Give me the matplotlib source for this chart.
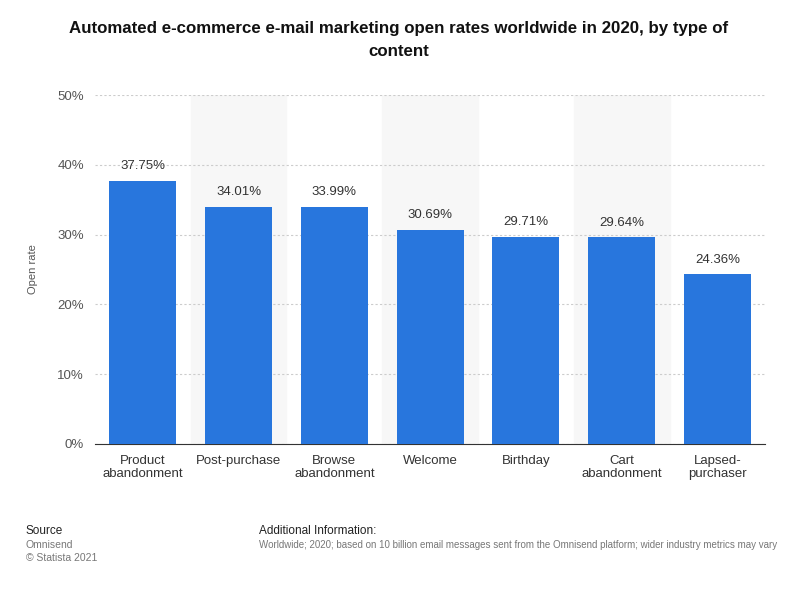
import matplotlib.pyplot as plt

plt.rcParams["font.family"] = ["Liberation Sans", "DejaVu Sans"]

categories = ["Product\nabandonment", "Post-purchase", "Browse\nabandonment", "Welcome",
              "Birthday", "Cart\nabandonment", "Lapsed-\npurchaser"]
open_rates = [37.75, 34.01, 33.99, 30.69, 29.71, 29.64, 24.36]
y_ticks = [0, 10, 20, 30, 40, 50]

fig = plt.figure(figsize=(7.98, 5.92), dpi=100)
ax = fig.add_axes([0.119, 0.25, 0.84, 0.5895])

x = range(len(categories))
for i in x:
    if i % 2 == 1:
        ax.axvspan(i - 0.5, i + 0.5, color="#f7f7f7", zorder=0)
ax.bar(x, open_rates, width=0.7, color="#2876dd", zorder=3)
for i, v in zip(x, open_rates):
    ax.text(i, v + 1.2, f"{v:.2f}%", ha="center", va="bottom", fontsize=9.5, color="#333333")

ax.set_xlim(-0.5, len(categories) - 0.5)
ax.set_ylim(0, 50)
ax.set_yticks(y_ticks)
ax.set_yticklabels([f"{t}%" for t in y_ticks], fontsize=9.5, color="#555555")
ax.set_xticks(list(x))
ax.set_xticklabels(categories, fontsize=9.5, color="#333333", linespacing=1.15)
ax.grid(axis="y", color="#cccccc", linestyle=(0, (2, 2)), linewidth=0.8, zorder=1)
for s in ["top", "right", "left"]:
    ax.spines[s].set_visible(False)
ax.spines["bottom"].set_color("#333333")
ax.tick_params(axis="both", length=0, pad=8)
ax.set_ylabel("Open rate", fontsize=8, color="#555555", labelpad=14)

fig.text(0.5, 0.965, "Automated e-commerce e-mail marketing open rates worldwide in 2020, by type of\ncontent",
         ha="center", va="top", fontsize=12.2, fontweight="bold", color="#111111", linespacing=1.65)

fig.text(0.032, 0.098, "Source", fontsize=8.5, color="#222222")
fig.text(0.032, 0.075, "Omnisend", fontsize=7.5, color="#777777")
fig.text(0.032, 0.053, "© Statista 2021", fontsize=7.5, color="#777777")
fig.text(0.324, 0.098, "Additional Information:", fontsize=8.5, color="#222222")
fig.text(0.324, 0.075, "Worldwide; 2020; based on 10 billion email messages sent from the Omnisend platform; wider industry metrics may vary",
         fontsize=7.0, color="#777777")

fig.savefig("out.png", dpi=100, facecolor="white")
